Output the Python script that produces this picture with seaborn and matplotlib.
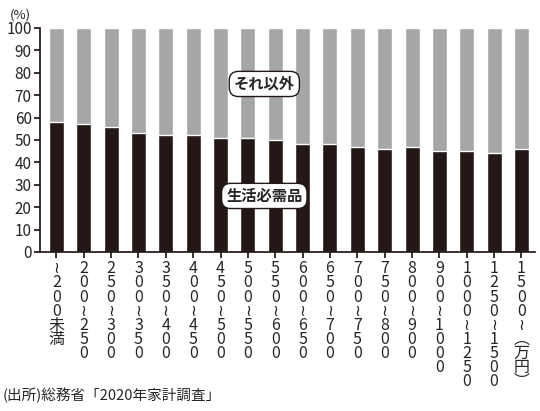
import matplotlib
matplotlib.use("Agg")
import matplotlib.pyplot as plt
import seaborn as sns
import pandas as pd

categories = ["~200未満","200~250","250~300","300~350","350~400","400~450","450~500",
              "500~550","550~600","600~650","650~700","700~750","750~800","800~900",
              "900~1000","1000~1250","1250~1500","1500~(万円)"]
necessities = [58,57,56,53,52,52,51,51,50,48,48,47,46,47,45,45,44,46]
total = [100]*18

sns.set_theme(style="white")
plt.rcParams['font.family'] = ['Noto Sans CJK JP', 'DejaVu Sans']

def vert(s):
    s = s.replace("~", "≀").replace("(", "︵").replace(")", "︶")
    return "\n".join(s)

df = pd.DataFrame({"cat": categories, "nec": necessities, "tot": total})
fig = plt.figure(figsize=(5.4, 4.11), dpi=100)
ax = fig.add_axes([0.074, 0.387, 0.917, 0.545])
sns.barplot(data=df, x="cat", y="tot", color="#a6a6a6", width=0.55, ax=ax, saturation=1)
sns.barplot(data=df, x="cat", y="nec", color="#231815", width=0.55, ax=ax, saturation=1)
ax.set_ylim(0, 100)
ax.set_xlim(-0.6, 17.5)
ax.set_yticks(range(0, 101, 10))
ax.tick_params(axis='y', labelsize=11, length=4, color='#231815', left=True, pad=2)
ax.tick_params(axis='x', length=4, color='#231815', bottom=True, pad=2)
ax.set_xticks(range(18))
ax.set_xticklabels([vert(c) for c in categories], fontsize=11.5, linespacing=0.78, va='top')
ax.set_xlabel(""); ax.set_ylabel("")
for s in ["top", "right"]:
    ax.spines[s].set_visible(False)
for s in ["left", "bottom"]:
    ax.spines[s].set_color('#231815')
ax.text(-1.3, 103, "(%)", fontsize=9.5, ha='center', va='bottom')
bbox = dict(boxstyle="round,pad=0.3,rounding_size=0.6", fc="white", ec="#231815", lw=1)
ax.text(7.6, 75, "それ以外", fontsize=11, fontweight='bold', ha='center', va='center', bbox=bbox)
ax.text(7.6, 25, "生活必需品", fontsize=11, fontweight='bold', ha='center', va='center', bbox=bbox)
fig.text(0.005, 0.02, "(出所)総務省「2020年家計調査」", fontsize=10.5, ha='left', va='bottom')
fig.savefig("out.png", dpi=100)
